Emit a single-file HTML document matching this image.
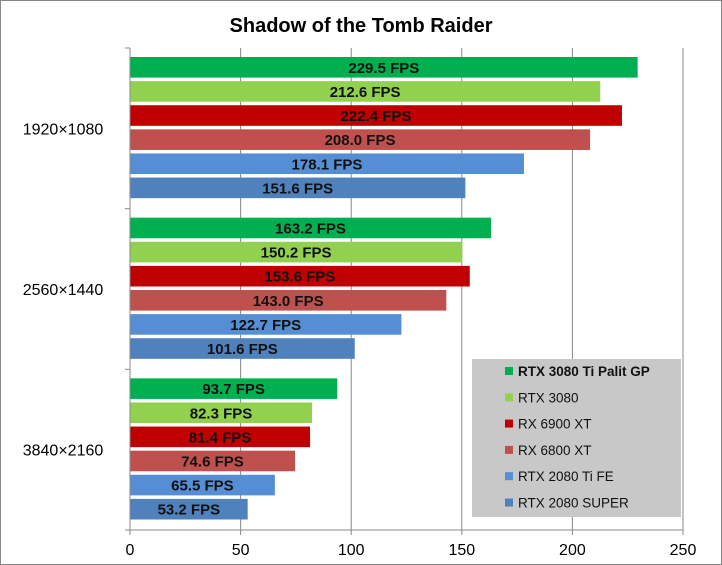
<!DOCTYPE html>
<html><head><meta charset="utf-8"><style>
body{margin:0;background:#fff}
svg{display:block;font-family:"Liberation Sans",sans-serif}
</style></head><body>
<svg id="chart" width="722" height="565" viewBox="0 0 722 565">
<rect x="0.5" y="0.5" width="721" height="564" fill="#fff" stroke="#888"/>
<text x="361" y="32" text-anchor="middle" font-size="20" font-weight="bold">Shadow of the Tomb Raider</text>
<g id="grid"></g><g id="bars"></g><g id="axes"></g><g id="legend"></g>
</svg>
<script>
const categories=["1920×1080","2560×1440","3840×2160"];
const seriesNames=["RTX 3080 Ti Palit GP","RTX 3080","RX 6900 XT","RX 6800 XT","RTX 2080 Ti FE","RTX 2080 SUPER"];
const seriesColors=["#00b050","#92d050","#c00000","#c0504d","#558ed5","#4f81bd"];
const s0=[229.5,163.2,93.7];
const s1=[212.6,150.2,82.3];
const s2=[222.4,153.6,81.4];
const s3=[208.0,143.0,74.6];
const s4=[178.1,122.7,65.5];
const s5=[151.6,101.6,53.2];
const xTicks=[0,50,100,150,200,250];
const series=[s0,s1,s2,s3,s4,s5];
const NS="http://www.w3.org/2000/svg";
const X0=130,X1=683,XMAX=250,TOP=48,BOT=530;
const x=v=>X0+v/XMAX*(X1-X0);
const catH=(BOT-TOP)/categories.length;
const pitch=(catH-16)/seriesNames.length;
function mk(t,a,p){const e=document.createElementNS(NS,t);for(const k in a)e.setAttribute(k,a[k]);p.appendChild(e);return e;}
const grid=document.getElementById('grid'),bars=document.getElementById('bars'),axes=document.getElementById('axes'),leg=document.getElementById('legend');
xTicks.forEach(t=>{
 if(t>0){const g=mk('line',{x1:x(t),x2:x(t),y1:TOP,y2:BOT,stroke:'#888','stroke-width':1},grid);
 
 }
 const tk=mk('line',{x1:x(t),x2:x(t),y1:BOT,y2:BOT+5,stroke:'#888'},axes);
 
 
 const l=mk('text',{x:x(t),y:BOT+25,'text-anchor':'middle','font-size':16},axes);
 l.textContent=t;
 
 
});
categories.forEach((c,ci)=>{
 const cy=TOP+ci*catH;
 series.forEach((s,si)=>{
  const y=cy+8+si*pitch+1;
  const h=pitch-3.5;
  const r=mk('rect',{x:X0,y:y,width:x(s[ci])-X0,height:h,fill:seriesColors[si]},bars);
  
  
  const t=mk('text',{x:(X0+x(s[ci]))/2,y:y+h/2+5.5,'text-anchor':'middle','font-size':15,'font-weight':'bold',fill:'#111'},bars);
  t.textContent=s[ci].toFixed(1)+' FPS';
  
  
 });
 const cl=mk('text',{x:63,y:cy+catH/2+6,'text-anchor':'middle','font-size':16},axes);
 cl.textContent=c;
 
 
});
for(let i=0;i<=categories.length;i++){
 const t=mk('line',{x1:X0-5,x2:X0,y1:TOP+i*catH,y2:TOP+i*catH,stroke:'#888'},axes);
 
 
}
const ya=mk('line',{x1:X0,x2:X0,y1:TOP,y2:BOT,stroke:'#888'},axes);


const xa=mk('line',{x1:X0,x2:X1,y1:BOT,y2:BOT,stroke:'#888'},axes);


const lb=mk('rect',{x:472,y:359,width:209,height:158,fill:'#c8c8c8'},leg);


seriesNames.forEach((n,i)=>{
 const y=371+i*26.3;
 const m=mk('rect',{x:505,y:y-4,width:8,height:8,fill:seriesColors[i]},leg);
 
 
 const t=mk('text',{x:518,y:y+5,'font-size':13.5,'font-weight':i==0?'bold':'normal',fill:'#111'},leg);
 t.textContent=n;
 
 
});
</script>
</body></html>
